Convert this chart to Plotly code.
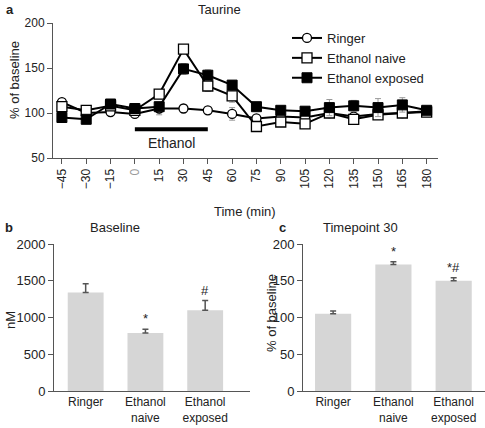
import plotly.graph_objects as go

# ---- Panel a: Taurine time course ----
time_min = [-45, -30, -15, 0, 15, 30, 45, 60, 75, 90, 105, 120, 135, 150, 165, 180]
time_labels = ["\u221245", "\u221230", "\u221215", "<span style='color:#9a9a9a'>0</span>", "15", "30", "45", "60",
               "75", "90", "105", "120", "135", "150", "165", "180"]
ringer = [112, 100, 101, 99, 105, 105, 103, 99, 94, 96, 95, 100, 96, 99, 100, 102]
ringer_err = [4, 3, 3, 3, 7, 4, 4, 7, 4, 4, 4, 5, 4, 4, 4, 5]
naive = [107, 103, 108, 103, 121, 171, 130, 119, 85, 90, 88, 100, 93, 98, 100, 101]
naive_err = [3, 3, 3, 3, 5, 4, 6, 7, 4, 4, 5, 5, 4, 4, 5, 5]
exposed = [95, 93, 110, 105, 107, 149, 142, 131, 107, 103, 102, 106, 108, 106, 109, 103]
exposed_err = [4, 3, 3, 3, 4, 6, 6, 5, 4, 4, 4, 9, 6, 10, 8, 3]
ethanol_period = [0, 45]
ethanol_bar_level = 82

# ---- Panels b, c ----
groups = ["Ringer", "Ethanol<br>naive", "Ethanol<br>exposed"]
baseline_nM = [1340, 790, 1100]
baseline_err = [120, 50, 130]
baseline_marks = ["", "*", "#"]
tp30 = [105, 172, 150]
tp30_err = [4, 4, 4]
tp30_marks = ["", "*", "*#"]

FONT = "Arial, Liberation Sans, Helvetica, sans-serif"
AX = "#555555"
W, H = 485, 428


def px(x):
    return x / W


def py(y):
    return 1 - y / H


fig = go.Figure()

err_style = dict(type="data", color="#9a9a9a", thickness=1, width=3)
fig.add_trace(go.Scatter(x=time_min, y=ringer, name="Ringer", mode="lines+markers",
                         line=dict(color="black", width=2),
                         marker=dict(symbol="circle", size=9, color="white", line=dict(color="black", width=1.3)),
                         error_y=dict(array=ringer_err, **err_style), xaxis="x", yaxis="y"))
fig.add_trace(go.Scatter(x=time_min, y=naive, name="Ethanol naive", mode="lines+markers",
                         line=dict(color="black", width=2),
                         marker=dict(symbol="square", size=10, color="white", line=dict(color="black", width=1.3)),
                         error_y=dict(array=naive_err, **err_style), xaxis="x", yaxis="y"))
fig.add_trace(go.Scatter(x=time_min, y=exposed, name="Ethanol exposed", mode="lines+markers",
                         line=dict(color="black", width=2),
                         marker=dict(symbol="square", size=10, color="black", line=dict(color="black", width=1)),
                         error_y=dict(array=exposed_err, **err_style), xaxis="x", yaxis="y"))

bar_err = dict(type="data", symmetric=False, color="#555555", thickness=1.5, width=3)
fig.add_trace(go.Bar(x=groups, y=baseline_nM, width=0.6, marker=dict(color="#d6d6d6", line=dict(width=0)),
                     error_y=dict(array=baseline_err, arrayminus=[0, 0, 0], **bar_err),
                     showlegend=False, xaxis="x2", yaxis="y2"))
fig.add_trace(go.Bar(x=groups, y=tp30, width=0.6, marker=dict(color="#d6d6d6", line=dict(width=0)),
                     error_y=dict(array=tp30_err, arrayminus=[0, 0, 0], **bar_err),
                     showlegend=False, xaxis="x3", yaxis="y3"))

axis_common = dict(showline=True, linecolor=AX, linewidth=1, ticks="outside", ticklen=5,
                   tickcolor=AX, tickwidth=1, showgrid=False, zeroline=False, automargin=False,
                   tickfont=dict(family=FONT, size=12, color="#222"))
big_ticks = dict(tickfont=dict(family=FONT, size=13, color="#222"))

fig.update_layout(
    template="none",
    width=W, height=H, margin=dict(l=0, r=0, t=0, b=0, pad=0),
    plot_bgcolor="white", paper_bgcolor="white",
    font=dict(family=FONT, size=13, color="#222"),
    xaxis=dict(domain=[px(53), px(438)], range=[-50.5, 187], anchor="y",
               tickvals=time_min, ticktext=time_labels, tickangle=-90, **axis_common),
    yaxis=dict(domain=[py(158), py(23)], range=[50, 200], anchor="x",
               tickvals=[50, 100, 150, 200], **axis_common),
    xaxis2=dict(domain=[px(54), px(250)], range=[-0.53, 2.75], anchor="y2", **axis_common),
    yaxis2=dict(domain=[py(391), py(244)], range=[0, 2000], anchor="x2",
                tickvals=[0, 500, 1000, 1500, 2000], **axis_common),
    xaxis3=dict(domain=[px(303), px(485)], range=[-0.5, 2.52], anchor="y3", **axis_common),
    yaxis3=dict(domain=[py(391), py(244)], range=[0, 200], anchor="x3",
                tickvals=[0, 50, 100, 150, 200], **axis_common),
    legend=dict(x=px(287), y=py(23), xanchor="left", yanchor="top", bgcolor="rgba(0,0,0,0)",
                font=dict(family=FONT, size=13, color="#222"), tracegroupgap=0),
    bargap=0.4,
)
fig.update_layout(xaxis2_ticks="", xaxis3_ticks="")
fig.update_layout(yaxis2=big_ticks, yaxis3=big_ticks)

# Ethanol application bar
fig.add_shape(type="line", xref="x", yref="y", x0=ethanol_period[0], x1=ethanol_period[1],
              y0=ethanol_bar_level, y1=ethanol_bar_level, line=dict(color="black", width=4))

ann = []
ann.append(dict(xref="x", yref="y", x=sum(ethanol_period) / 2, y=ethanol_bar_level, yshift=-14,
                text="Ethanol", font=dict(size=14)))
# panel letters and titles
ann += [
    dict(xref="paper", yref="paper", x=px(4), y=py(9), text="<b>a</b>", xanchor="left"),
    dict(xref="paper", yref="paper", x=px(219), y=py(9), text="Taurine"),
    dict(xref="paper", yref="paper", x=px(245), y=py(212), text="Time (min)"),
    dict(xref="paper", yref="paper", x=px(3), y=py(228), text="<b>b</b>", xanchor="left"),
    dict(xref="paper", yref="paper", x=px(115), y=py(228), text="Baseline"),
    dict(xref="paper", yref="paper", x=px(277), y=py(228), text="<b>c</b>", xanchor="left"),
    dict(xref="paper", yref="paper", x=px(360), y=py(228), text="Timepoint 30"),
    dict(xref="paper", yref="paper", x=px(14), y=py(80), text="% of baseline", textangle=-90),
    dict(xref="paper", yref="paper", x=px(10), y=py(320), text="nM", textangle=-90),
    dict(xref="paper", yref="paper", x=px(271), y=py(313), text="% of baseline", textangle=-90),
]
for i, m in enumerate(baseline_marks):
    if m:
        ann.append(dict(xref="x2", yref="y2", x=groups[i], y=baseline_nM[i] + baseline_err[i],
                        yanchor="bottom", yshift=1, text=m))
for i, m in enumerate(tp30_marks):
    if m:
        ann.append(dict(xref="x3", yref="y3", x=groups[i], y=tp30[i] + tp30_err[i],
                        yanchor="bottom", yshift=1, text=m))
for a in ann:
    a.setdefault("showarrow", False)
    a.setdefault("xanchor", "center")
    a.setdefault("yanchor", "middle")
    a.setdefault("font", dict(size=13))
    a["font"].setdefault("family", FONT)
    a["font"].setdefault("color", "#222")
fig.update_layout(annotations=ann)

fig.write_html("out.html", config={"displayModeBar": False},
               post_script="document.body.style.margin='0';")
